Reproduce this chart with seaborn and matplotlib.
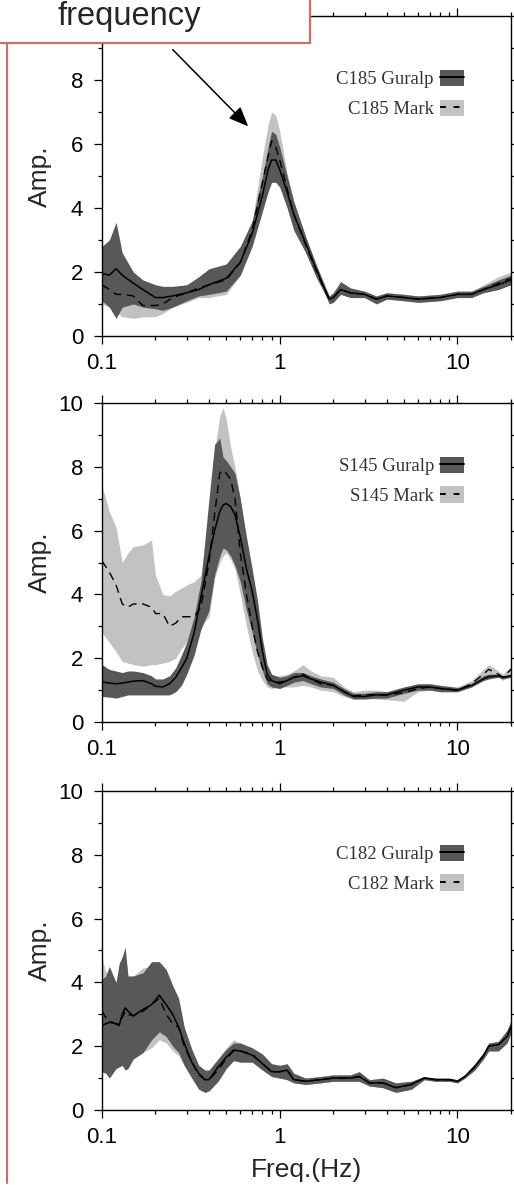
"""
Site response spectra: Guralp vs Mark sensors at three stations (C185, S145, C182).
"""

import matplotlib.pyplot as plt
import seaborn as sns
from matplotlib.lines import Line2D
from matplotlib.patches import Patch, Rectangle
from matplotlib.ticker import FixedLocator, FixedFormatter, MultipleLocator, NullFormatter


DARK = "#585858"
LIGHT = "#c2c2c2"
RED = "#d46a6a"

# ---- C185 -------------------------------------------------------------
C185_FREQ = [0.1, 0.11, 0.12, 0.13, 0.15, 0.17, 0.2, 0.22, 0.25, 0.3, 0.35, 0.4, 0.5,
             0.6, 0.7, 0.8, 0.86, 0.9, 0.95, 1.0, 1.1, 1.2, 1.4, 1.6, 1.8, 1.9, 2.0, 2.2,
             2.5, 3.0, 3.5, 4.0, 5.0, 6.0, 8.0, 10.0, 12.0, 14.0, 17.0, 20.0]
C185_GUR_MEAN = [1.95, 1.9, 2.1, 1.9, 1.65, 1.45, 1.2, 1.2, 1.25, 1.35, 1.45, 1.6, 1.8,
                 2.3, 3.2, 4.4, 5.2, 5.5, 5.5, 5.2, 4.5, 3.8, 2.9, 2.1, 1.44, 1.15, 1.2, 1.45,
                 1.35, 1.3, 1.15, 1.25, 1.2, 1.15, 1.2, 1.3, 1.3, 1.45, 1.6, 1.75]
C185_GUR_LO = [1.1, 0.9, 0.55, 0.9, 1.0, 0.9, 0.85, 0.8, 0.9, 1.1, 1.25, 1.3, 1.4,
               1.9, 2.8, 3.9, 4.5, 4.8, 4.8, 4.65, 4.0, 3.3, 2.6, 1.85, 1.3, 1.0, 1.05, 1.3,
               1.2, 1.2, 1.0, 1.15, 1.1, 1.05, 1.1, 1.2, 1.2, 1.35, 1.45, 1.6]
C185_GUR_HI = [2.8, 3.0, 3.55, 2.6, 2.0, 1.75, 1.6, 1.55, 1.55, 1.6, 1.85, 2.1, 2.25,
               2.8, 3.6, 5.0, 5.9, 6.4, 6.3, 5.9, 5.0, 4.2, 3.1, 2.25, 1.55, 1.25, 1.35, 1.7,
               1.5, 1.4, 1.25, 1.35, 1.3, 1.25, 1.3, 1.4, 1.4, 1.55, 1.75, 1.9]
C185_MARK_MEAN = [1.6, 1.45, 1.3, 1.3, 1.25, 0.95, 0.95, 1.0, 1.2, 1.35, 1.5, 1.6, 1.75,
                  2.3, 3.3, 4.8, 5.6, 6.1, 5.9, 5.5, 4.6, 3.8, 2.85, 2.05, 1.4, 1.15, 1.2, 1.45,
                  1.35, 1.3, 1.15, 1.25, 1.2, 1.15, 1.2, 1.3, 1.3, 1.45, 1.65, 1.8]
C185_MARK_LO = [1.0, 0.9, 0.75, 0.6, 0.55, 0.6, 0.6, 0.7, 0.9, 1.05, 1.2, 1.2, 1.3,
                1.9, 2.9, 4.2, 4.9, 5.4, 5.3, 4.9, 4.1, 3.4, 2.6, 1.9, 1.3, 1.05, 1.05, 1.3,
                1.2, 1.2, 1.05, 1.15, 1.1, 1.05, 1.1, 1.2, 1.2, 1.35, 1.5, 1.65]
C185_MARK_HI = [2.4, 2.2, 2.0, 1.9, 1.7, 1.5, 1.4, 1.4, 1.5, 1.6, 1.8, 2.0, 2.2,
                2.7, 3.6, 5.6, 6.6, 7.0, 6.9, 6.4, 5.1, 4.2, 3.1, 2.2, 1.55, 1.25, 1.35, 1.65,
                1.5, 1.4, 1.25, 1.35, 1.3, 1.25, 1.3, 1.4, 1.4, 1.6, 1.85, 2.0]

# ---- S145 -------------------------------------------------------------
S145_FREQ = [0.1, 0.11, 0.12, 0.13, 0.14, 0.15, 0.17, 0.19, 0.2, 0.22, 0.24, 0.26, 0.28,
             0.3, 0.33, 0.36, 0.4, 0.43, 0.46, 0.48, 0.5, 0.53, 0.56, 0.6, 0.65, 0.7, 0.75,
             0.8, 0.85, 0.9, 1.0, 1.1, 1.2, 1.35, 1.5, 1.7, 2.0, 2.3, 2.6, 3.0, 3.5, 4.0,
             5.0, 6.0, 7.0, 8.0, 10.0, 12.0, 14.0, 15.0, 17.0, 18.0, 20.0]
S145_GUR_MEAN = [1.26, 1.22, 1.2, 1.22, 1.25, 1.28, 1.3, 1.2, 1.12, 1.1, 1.2, 1.4, 1.7,
                 2.0, 2.8, 3.9, 5.2, 6.0, 6.6, 6.8, 6.85, 6.75, 6.5, 5.8, 4.8, 4.1, 3.2,
                 2.2, 1.5, 1.3, 1.2, 1.3, 1.4, 1.45, 1.35, 1.25, 1.15, 0.95, 0.8, 0.8, 0.85, 0.85,
                 1.0, 1.1, 1.1, 1.05, 1.0, 1.15, 1.35, 1.42, 1.45, 1.4, 1.45]
S145_GUR_LO = [0.8, 0.78, 0.75, 0.8, 0.85, 0.85, 0.85, 0.85, 0.85, 0.85, 0.85, 0.95, 1.15,
               1.5, 2.1, 2.9, 3.5, 4.6, 5.2, 5.45, 5.4, 5.2, 4.9, 4.4, 3.5, 2.8, 2.1,
               1.6, 1.2, 1.1, 1.05, 1.15, 1.25, 1.3, 1.2, 1.1, 1.05, 0.85, 0.72, 0.72, 0.75, 0.75,
               0.9, 1.0, 1.0, 0.95, 0.95, 1.1, 1.3, 1.35, 1.4, 1.35, 1.4]
S145_GUR_HI = [1.8, 1.65, 1.6, 1.55, 1.6, 1.6, 1.55, 1.45, 1.35, 1.35, 1.45, 1.7, 2.1,
               2.5, 3.3, 4.4, 7.0, 8.7, 8.9, 8.3, 8.2, 8.0, 7.8, 7.0, 5.8, 4.8, 3.8,
               2.6, 1.8, 1.5, 1.4, 1.45, 1.55, 1.55, 1.45, 1.35, 1.25, 1.05, 0.9, 0.9, 0.95, 0.95,
               1.1, 1.2, 1.2, 1.15, 1.08, 1.2, 1.45, 1.5, 1.5, 1.45, 1.5]
S145_MARK_MEAN = [5.05, 4.7, 4.3, 3.7, 3.6, 3.7, 3.7, 3.6, 3.4, 3.4, 3.0, 3.1, 3.3,
                  3.3, 3.3, 3.6, 5.0, 6.5, 7.8, 7.9, 7.8, 7.6, 7.0, 5.3, 4.0, 3.0, 2.2,
                  1.7, 1.35, 1.25, 1.25, 1.3, 1.4, 1.5, 1.35, 1.2, 1.15, 0.95, 0.82, 0.85, 0.85, 0.85,
                  0.92, 1.05, 1.1, 1.05, 1.0, 1.2, 1.5, 1.65, 1.5, 1.4, 1.65]
S145_MARK_LO = [2.8, 2.5, 2.2, 1.9, 1.85, 1.8, 1.75, 1.8, 1.8, 1.85, 1.9, 2.0, 2.3,
                2.5, 2.8, 3.0, 3.3, 4.5, 5.0, 5.2, 5.3, 5.1, 4.8, 4.0, 3.0, 2.2, 1.6,
                1.3, 1.1, 1.05, 1.1, 1.1, 1.1, 1.15, 1.1, 1.0, 0.95, 0.8, 0.72, 0.75, 0.72, 0.7,
                0.65, 0.95, 1.0, 0.95, 0.95, 1.1, 1.35, 1.5, 1.4, 1.3, 1.5]
S145_MARK_HI = [7.4, 6.6, 6.1, 5.0, 5.3, 5.5, 5.55, 5.7, 4.6, 4.0, 3.95, 4.1, 4.2,
                4.3, 4.4, 4.6, 6.5, 8.5, 9.6, 9.85, 9.5, 8.6, 8.0, 7.0, 5.5, 4.3, 3.2,
                2.2, 1.6, 1.45, 1.45, 1.5, 1.6, 1.8, 1.6, 1.45, 1.4, 1.1, 0.95, 1.0, 1.0, 0.95,
                1.05, 1.15, 1.2, 1.15, 1.1, 1.3, 1.65, 1.8, 1.6, 1.5, 1.75]

# ---- C182 -------------------------------------------------------------
C182_FREQ = [0.1, 0.105, 0.11, 0.12, 0.125, 0.13, 0.135, 0.14, 0.15, 0.17, 0.19, 0.21,
             0.23, 0.25, 0.27, 0.29, 0.32, 0.35, 0.38, 0.4, 0.45, 0.5, 0.55, 0.6, 0.7,
             0.8, 0.9, 1.0, 1.1, 1.2, 1.4, 1.7, 2.0, 2.5, 2.8, 3.2, 3.8, 4.5, 5.5, 6.5,
             7.5, 9.0, 10.0, 11.0, 12.5, 14.0, 15.0, 17.0, 19.0, 20.0]
C182_GUR_MEAN = [2.65, 2.7, 2.75, 2.7, 2.65, 3.0, 3.2, 3.1, 2.95, 3.15, 3.3, 3.6,
                 3.3, 3.0, 2.6, 2.1, 1.5, 1.15, 0.95, 0.95, 1.35, 1.65, 1.88, 1.85, 1.72,
                 1.45, 1.2, 1.2, 1.25, 0.95, 0.9, 0.95, 1.0, 1.0, 1.05, 0.85, 0.85, 0.7, 0.8, 1.0,
                 0.95, 0.95, 0.9, 1.05, 1.35, 1.7, 2.0, 2.05, 2.3, 2.6]
C182_GUR_LO = [1.2, 1.15, 1.0, 1.3, 1.35, 1.4, 1.25, 1.3, 1.6, 1.8, 2.2, 2.45,
               2.3, 2.0, 1.8, 1.4, 1.0, 0.65, 0.55, 0.6, 0.9, 1.3, 1.55, 1.5, 1.5,
               1.25, 1.05, 1.0, 0.95, 0.85, 0.8, 0.85, 0.9, 0.9, 0.9, 0.75, 0.7, 0.55, 0.65, 0.95,
               0.9, 0.9, 0.85, 1.0, 1.25, 1.6, 1.85, 1.85, 2.1, 2.4]
C182_GUR_HI = [4.1, 4.2, 4.5, 4.0, 4.6, 4.8, 5.1, 4.2, 4.2, 4.3, 4.65, 4.65,
               4.4, 3.9, 3.5, 2.6, 1.9, 1.4, 1.25, 1.25, 1.6, 1.9, 2.1, 2.1, 1.95,
               1.75, 1.45, 1.4, 1.45, 1.15, 1.0, 1.05, 1.1, 1.1, 1.2, 0.95, 1.0, 0.85, 0.9, 1.05,
               1.0, 1.0, 0.95, 1.1, 1.45, 1.8, 2.1, 2.15, 2.5, 2.8]
C182_MARK_MEAN = [3.1, 2.9, 2.8, 2.7, 2.7, 2.9, 3.1, 3.0, 2.95, 3.1, 3.3, 3.5,
                  3.0, 2.7, 2.6, 2.0, 1.5, 1.1, 0.95, 0.95, 1.25, 1.6, 1.85, 1.85, 1.75,
                  1.45, 1.2, 1.2, 1.25, 0.95, 0.9, 0.95, 1.0, 1.0, 1.05, 0.85, 0.85, 0.7, 0.8, 1.0,
                  0.95, 0.95, 0.9, 1.05, 1.35, 1.7, 2.0, 2.05, 2.3, 2.6]
C182_MARK_LO = [1.3, 1.2, 1.1, 1.3, 1.35, 1.4, 1.3, 1.4, 1.6, 1.8, 1.95, 2.2,
                2.1, 1.85, 1.7, 1.4, 1.0, 0.7, 0.6, 0.6, 0.9, 1.3, 1.55, 1.5, 1.5,
                1.25, 1.05, 1.0, 0.95, 0.85, 0.8, 0.85, 0.9, 0.9, 0.9, 0.75, 0.7, 0.55, 0.65, 0.95,
                0.9, 0.9, 0.85, 1.0, 1.25, 1.6, 1.85, 1.85, 2.1, 2.4]
C182_MARK_HI = [4.8, 4.3, 4.4, 4.0, 4.5, 4.7, 4.9, 4.2, 4.2, 4.45, 4.5, 4.55,
                4.3, 3.8, 3.4, 2.6, 1.9, 1.4, 1.25, 1.25, 1.6, 1.95, 2.2, 2.1, 1.95,
                1.75, 1.45, 1.4, 1.45, 1.15, 1.0, 1.05, 1.1, 1.1, 1.2, 0.95, 1.0, 0.85, 0.9, 1.05,
                1.0, 1.0, 0.95, 1.1, 1.45, 1.8, 2.1, 2.15, 2.5, 2.8]

PANELS = [
    ("C185", C185_FREQ, (C185_GUR_MEAN, C185_GUR_LO, C185_GUR_HI),
     (C185_MARK_MEAN, C185_MARK_LO, C185_MARK_HI)),
    ("S145", S145_FREQ, (S145_GUR_MEAN, S145_GUR_LO, S145_GUR_HI),
     (S145_MARK_MEAN, S145_MARK_LO, S145_MARK_HI)),
    ("C182", C182_FREQ, (C182_GUR_MEAN, C182_GUR_LO, C182_GUR_HI),
     (C182_MARK_MEAN, C182_MARK_LO, C182_MARK_HI)),
]

X_TICKS = [0.1, 1, 10]
X_TICK_LABELS = ["0.1", "1", "10"]
Y_TICKS = [0, 2, 4, 6, 8, 10]
Y_TICK_LABELS = ["0", "2", "4", "6", "8", "10"]
# the top panel's "10" sits under the callout box on the slide
Y_TICK_LABELS_TOP = ["0", "2", "4", "6", "8", ""]

# axes rectangles in figure fraction [left, bottom, width, height]
AX_RECTS = [
    [0.1984, 0.7165, 0.7957, 0.2700],
    [0.1984, 0.3907, 0.7957, 0.2692],
    [0.1984, 0.0633, 0.7957, 0.2692],
]

DASH = (0, (6, 4))


def setup_style() -> None:
    sns.set_theme(style="ticks")
    plt.rcParams["font.family"] = ["Liberation Sans", "DejaVu Sans"]
    plt.rcParams["axes.edgecolor"] = "black"
    plt.rcParams["axes.linewidth"] = 1.0


def style_axis(ax: plt.Axes, ylabels) -> None:
    ax.set_xscale("log")
    ax.set_xlim(0.1, 20)
    ax.set_ylim(0, 10)
    ax.xaxis.set_major_locator(FixedLocator(X_TICKS))
    ax.xaxis.set_major_formatter(FixedFormatter(X_TICK_LABELS))
    ax.xaxis.set_minor_formatter(NullFormatter())
    ax.set_yticks(Y_TICKS)
    ax.set_yticklabels(ylabels)
    ax.yaxis.set_minor_locator(MultipleLocator(1))
    ax.tick_params(which="both", direction="out", top=True, right=True,
                   colors="black", width=0.9, labelsize=16)
    ax.tick_params(which="major", length=6)
    ax.tick_params(which="minor", length=3)
    ax.tick_params(axis="y", which="major", pad=7.5)
    ax.tick_params(axis="x", which="major", pad=6)
    ax.set_ylabel("Amp.", fontsize=19)
    ax.yaxis.set_label_coords(-0.122, 0.5)
    ax.set_xlabel("")


def draw_panel(ax: plt.Axes, station, freq, gur, mark, ylabels) -> None:
    g_mean, g_lo, g_hi = gur
    m_mean, m_lo, m_hi = mark
    ax.fill_between(freq, m_lo, m_hi, color=LIGHT, lw=0, zorder=1)
    ax.fill_between(freq, g_lo, g_hi, color=DARK, lw=0, zorder=2)
    sns.lineplot(x=freq, y=g_mean, color="black", lw=1.1, estimator=None,
                 sort=False, ax=ax, zorder=3)
    sns.lineplot(x=freq, y=m_mean, color="black", lw=1.0, linestyle=DASH,
                 estimator=None, sort=False, ax=ax, zorder=4)

    handles = [
        (Patch(facecolor=DARK, lw=0), Line2D([], [], color="black", lw=1.4)),
        (Patch(facecolor=LIGHT, lw=0), Line2D([], [], color="black", lw=1.4, ls=(0, (3, 4)))),
    ]
    leg = ax.legend(handles, [f"{station} Guralp", f"{station} Mark"],
                    loc="upper right", bbox_to_anchor=(0.885, 0.832),
                    frameon=False, markerfirst=False, borderpad=0, borderaxespad=0,
                    handlelength=1.25, handleheight=0.95, handletextpad=0.35,
                    labelspacing=0.6, prop={"family": "Liberation Serif", "size": 13.5})
    for text in leg.get_texts():
        text.set_color("#333333")
    style_axis(ax, ylabels)


def main() -> None:
    setup_style()
    fig = plt.figure(figsize=(5.14, 11.85), dpi=100)

    axes = []
    for i, (rect, (station, freq, gur, mark)) in enumerate(zip(AX_RECTS, PANELS)):
        ax = fig.add_axes(rect)
        ylabels = Y_TICK_LABELS_TOP if i == 0 else Y_TICK_LABELS
        draw_panel(ax, station, freq, gur, mark, ylabels)
        axes.append(ax)

    axes[-1].set_xlabel("Freq.(Hz)", fontsize=19)
    axes[-1].xaxis.set_label_coords(0.5, -0.15)

    # callout arrow to the C185 peak
    axes[0].annotate("", xy=(0.665, 6.55), xytext=(0.25, 8.95),
                     arrowprops=dict(arrowstyle="-|>,head_length=0.6,head_width=0.25",
                                     color="black", lw=1.1, mutation_scale=20,
                                     shrinkA=0, shrinkB=0))

    # slide decorations: callout box and red guide line
    fig.add_artist(Rectangle((-6 / 514, 1 - 43 / 1185), 316 / 514, 60 / 1185,
                             transform=fig.transFigure, facecolor="white",
                             edgecolor=RED, lw=1.6, zorder=5))
    fig.text(58 / 514, 1 - 25 / 1185, "frequency", fontsize=23.5, ha="left",
             va="baseline", zorder=6)
    fig.add_artist(Line2D([7 / 514, 7 / 514], [1 - 43 / 1185, 0.002],
                          transform=fig.transFigure, color=RED, lw=1.5, zorder=5))

    fig.savefig("out.png", dpi=100)
    plt.close(fig)


if __name__ == "__main__":
    main()
